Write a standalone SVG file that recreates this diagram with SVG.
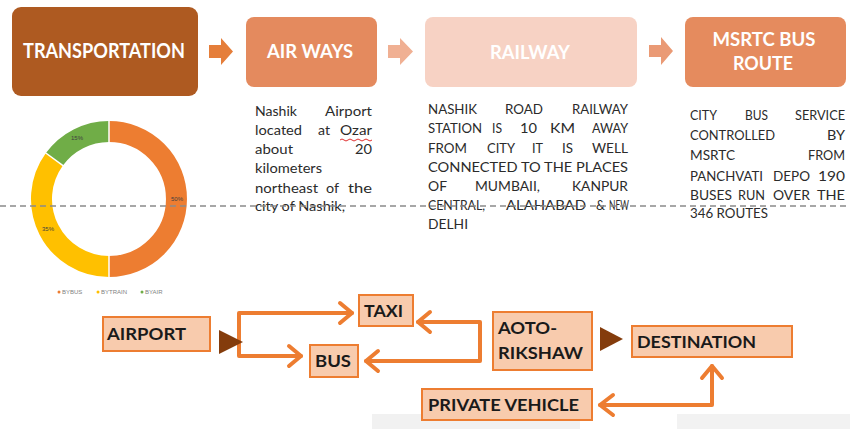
<svg xmlns="http://www.w3.org/2000/svg" width="850" height="429" viewBox="0 0 850 429">
<style>
.hd{font-family:Lato,"Liberation Sans",sans-serif;font-weight:bold;fill:#fff;text-anchor:middle}
.ds{font-family:Lato,"Liberation Sans",sans-serif;font-size:14px;fill:#2b2b2b}
.bx{fill:#F8CBAD;stroke:#ED7D31;stroke-width:2}
.bl{font-family:Lato,"Liberation Sans",sans-serif;font-weight:bold;font-size:17px;fill:#1a1a1a}
.cn{fill:none;stroke:#ED7D31;stroke-width:4;stroke-linecap:round;stroke-linejoin:round}
.tri{fill:#843C0C}
.pl{font-family:"Liberation Sans",sans-serif;font-size:6px;fill:#404040;text-anchor:middle}
.lg{font-family:"Liberation Sans",sans-serif;font-size:6px;fill:#7f7f7f}
</style>
<rect width="850" height="429" fill="#fff"/>
<!-- faint image fragments at bottom -->
<rect x="372" y="414" width="208" height="15" fill="#F1F1F1"/>
<rect x="677" y="414" width="173" height="15" fill="#F2F2F2"/>

<!-- top process -->
<g id="transportation">
<rect x="12" y="7" width="186" height="89" rx="9" fill="#AE5A21"/>
<text class="hd" x="104" y="58" font-size="20" textLength="162" lengthAdjust="spacingAndGlyphs">TRANSPORTATION</text>
</g>
<g id="airways">
<rect x="246" y="17" width="131" height="70" rx="8" fill="#E48A5E"/>
<text class="hd" x="310" y="58" font-size="19" textLength="86" lengthAdjust="spacingAndGlyphs">AIR WAYS</text>
</g>
<g id="railway">
<rect x="425" y="17" width="212" height="70" rx="8" fill="#F7D2C4"/>
<text class="hd" x="530" y="59" font-size="19" textLength="80" lengthAdjust="spacingAndGlyphs">RAILWAY</text>
</g>
<g id="msrtc">
<rect x="685" y="17" width="161" height="70" rx="8" fill="#E58B5E"/>
<text class="hd" x="764" y="46" font-size="19" textLength="103" lengthAdjust="spacingAndGlyphs">MSRTC BUS</text>
<text class="hd" x="763" y="70" font-size="19" textLength="60" lengthAdjust="spacingAndGlyphs">ROUTE</text>
</g>
<g id="top-arrows">
<path d="M209 45H221V38L233 51.5L221 65V58H209Z" fill="#E57E3A"/>
<path d="M388 45H400V38L413 51.5L400 65V58H388Z" fill="#F0B093"/>
<path d="M649 45H661V37L673 51L661 65V57H649Z" fill="#EA9A75"/>
</g>

<!-- descriptions -->
<g id="airways-text" class="ds">
<text x="255" y="116" textLength="42" lengthAdjust="spacingAndGlyphs">Nashik</text>
<text x="325" y="116" textLength="47" lengthAdjust="spacingAndGlyphs">Airport</text>
<text x="255" y="135" textLength="47" lengthAdjust="spacingAndGlyphs">located</text>
<text x="318" y="135" textLength="12" lengthAdjust="spacingAndGlyphs">at</text>
<text x="340" y="135" textLength="32" lengthAdjust="spacingAndGlyphs">Ozar</text>
<text x="255" y="154" textLength="38" lengthAdjust="spacingAndGlyphs">about</text>
<text x="355" y="154" textLength="17" lengthAdjust="spacingAndGlyphs">20</text>
<text x="255" y="173" textLength="67" lengthAdjust="spacingAndGlyphs">kilometers</text>
<text x="255" y="193" textLength="63" lengthAdjust="spacingAndGlyphs">northeast</text>
<text x="326" y="193" textLength="13" lengthAdjust="spacingAndGlyphs">of</text>
<text x="348" y="193" textLength="24" lengthAdjust="spacingAndGlyphs">the</text>
<text x="255" y="211" textLength="90" lengthAdjust="spacingAndGlyphs">city of Nashik,</text>
</g>
<path d="M340 140q2 -2 4 0t4 0t4 0t4 0t4 0t4 0t4 0t4 0" fill="none" stroke="#E03030" stroke-width="1"/>

<g id="railway-text" class="ds">
<text x="428" y="114" textLength="49" lengthAdjust="spacingAndGlyphs">NASHIK</text>
<text x="505" y="114" textLength="38" lengthAdjust="spacingAndGlyphs">ROAD</text>
<text x="572" y="114" textLength="56" lengthAdjust="spacingAndGlyphs">RAILWAY</text>
<text x="428" y="133" textLength="54" lengthAdjust="spacingAndGlyphs">STATION</text>
<text x="492" y="133" textLength="10" lengthAdjust="spacingAndGlyphs">IS</text>
<text x="520" y="133" textLength="17" lengthAdjust="spacingAndGlyphs">10</text>
<text x="550" y="133" textLength="25" lengthAdjust="spacingAndGlyphs">KM</text>
<text x="592" y="133" textLength="36" lengthAdjust="spacingAndGlyphs">AWAY</text>
<text x="428" y="153" textLength="39" lengthAdjust="spacingAndGlyphs">FROM</text>
<text x="487" y="153" textLength="28" lengthAdjust="spacingAndGlyphs">CITY</text>
<text x="532" y="153" textLength="11" lengthAdjust="spacingAndGlyphs">IT</text>
<text x="562" y="153" textLength="11" lengthAdjust="spacingAndGlyphs">IS</text>
<text x="592" y="153" textLength="36" lengthAdjust="spacingAndGlyphs">WELL</text>
<text x="428" y="172" textLength="200" lengthAdjust="spacingAndGlyphs">CONNECTED TO THE PLACES</text>
<text x="428" y="191" textLength="19" lengthAdjust="spacingAndGlyphs">OF</text>
<text x="475" y="191" textLength="65" lengthAdjust="spacingAndGlyphs">MUMBAII,</text>
<text x="572" y="191" textLength="56" lengthAdjust="spacingAndGlyphs">KANPUR</text>
<text x="428" y="210" textLength="57" lengthAdjust="spacingAndGlyphs">CENTRAL,</text>
<text x="506" y="210" textLength="80" lengthAdjust="spacingAndGlyphs">ALAHABAD</text>
<text x="596" y="210" textLength="9" lengthAdjust="spacingAndGlyphs">&amp;</text>
<text x="609" y="210" textLength="20" lengthAdjust="spacingAndGlyphs">NEW</text>
<text x="428" y="229" textLength="40" lengthAdjust="spacingAndGlyphs">DELHI</text>
</g>

<g id="msrtc-text" class="ds">
<text x="690" y="120" textLength="27" lengthAdjust="spacingAndGlyphs">CITY</text>
<text x="745" y="120" textLength="23" lengthAdjust="spacingAndGlyphs">BUS</text>
<text x="795" y="120" textLength="50" lengthAdjust="spacingAndGlyphs">SERVICE</text>
<text x="690" y="140" textLength="85" lengthAdjust="spacingAndGlyphs">CONTROLLED</text>
<text x="827" y="140" textLength="18" lengthAdjust="spacingAndGlyphs">BY</text>
<text x="690" y="160" textLength="45" lengthAdjust="spacingAndGlyphs">MSRTC</text>
<text x="808" y="160" textLength="37" lengthAdjust="spacingAndGlyphs">FROM</text>
<text x="690" y="181" textLength="73" lengthAdjust="spacingAndGlyphs">PANCHVATI</text>
<text x="773" y="181" textLength="37" lengthAdjust="spacingAndGlyphs">DEPO</text>
<text x="818" y="181" textLength="27" lengthAdjust="spacingAndGlyphs">190</text>
<text x="690" y="200" textLength="42" lengthAdjust="spacingAndGlyphs">BUSES</text>
<text x="738" y="200" textLength="27" lengthAdjust="spacingAndGlyphs">RUN</text>
<text x="773" y="200" textLength="37" lengthAdjust="spacingAndGlyphs">OVER</text>
<text x="817" y="200" textLength="28" lengthAdjust="spacingAndGlyphs">THE</text>
<text x="690" y="218" textLength="78" lengthAdjust="spacingAndGlyphs">346 ROUTES</text>
</g>

<!-- donut chart -->
<g id="donut">
<path d="M109 131.5A67.5 67.5 0 0 1 109 266.5" fill="none" stroke="#ED7D31" stroke-width="21"/>
<path d="M109 266.5A67.5 67.5 0 0 1 54.4 159.3" fill="none" stroke="#FFC000" stroke-width="21"/>
<path d="M54.4 159.3A67.5 67.5 0 0 1 109 131.5" fill="none" stroke="#70AD47" stroke-width="21"/>
<g stroke="#fff" stroke-width="1.5">
<line x1="109" y1="120" x2="109" y2="143"/>
<line x1="109" y1="255" x2="109" y2="278"/>
<line x1="63.7" y1="166.1" x2="45.1" y2="152.5"/>
</g>
<text class="pl" x="177" y="201">50%</text>
<text class="pl" x="48" y="231">35%</text>
<text class="pl" x="77" y="140">15%</text>
</g>
<g id="legend">
<circle cx="59" cy="292" r="1.5" fill="#ED7D31"/><text class="lg" x="62" y="294">BYBUS</text>
<circle cx="98" cy="292" r="1.5" fill="#FFC000"/><text class="lg" x="101" y="294">BYTRAIN</text>
<circle cx="142" cy="292" r="1.5" fill="#70AD47"/><text class="lg" x="145" y="294">BYAIR</text>
</g>

<!-- dashed separator -->
<line x1="0" y1="206" x2="850" y2="206" stroke="#8a8a8a" stroke-width="1.5" stroke-dasharray="6 4"/>

<!-- bottom flow -->
<g id="connectors">
<path class="cn" d="M352 313H239V356H301"/>
<path class="cn" d="M340 303L352 313L340 323"/>
<path class="cn" d="M289 346L301 356L289 366"/>
<path class="cn" d="M418 322H480V361H366"/>
<path class="cn" d="M430 312L418 322L430 332"/>
<path class="cn" d="M378 351L366 361L378 371"/>
<path class="cn" d="M600 405H712V366"/>
<path class="cn" d="M613 395L600 405L613 415"/>
<path class="cn" d="M702 378L712 366L722 378"/>
<polygon class="tri" points="219,330 243,342 219,354"/>
<polygon class="tri" points="600,327 623,339 600,351"/>
</g>
<g id="airport">
<rect class="bx" x="103" y="317" width="107" height="34"/>
<text class="bl" x="107" y="340" textLength="79" lengthAdjust="spacingAndGlyphs">AIRPORT</text>
</g>
<g id="taxi">
<rect class="bx" x="359" y="295" width="54" height="31"/>
<text class="bl" x="364" y="317" textLength="39" lengthAdjust="spacingAndGlyphs">TAXI</text>
</g>
<g id="bus">
<rect class="bx" x="310" y="345" width="48" height="32"/>
<text class="bl" x="315" y="367" textLength="36" lengthAdjust="spacingAndGlyphs">BUS</text>
</g>
<g id="aoto-rikshaw">
<rect class="bx" x="493" y="312" width="99" height="58"/>
<text class="bl" x="498" y="334" textLength="59" lengthAdjust="spacingAndGlyphs">AOTO-</text>
<text class="bl" x="498" y="359" textLength="85" lengthAdjust="spacingAndGlyphs">RIKSHAW</text>
</g>
<g id="destination">
<rect class="bx" x="632" y="326" width="160" height="31"/>
<text class="bl" x="637" y="348" textLength="119" lengthAdjust="spacingAndGlyphs">DESTINATION</text>
</g>
<g id="private-vehicle">
<rect class="bx" x="422" y="389" width="170" height="31"/>
<text class="bl" x="428" y="411" textLength="151" lengthAdjust="spacingAndGlyphs">PRIVATE VEHICLE</text>
</g>
</svg>
